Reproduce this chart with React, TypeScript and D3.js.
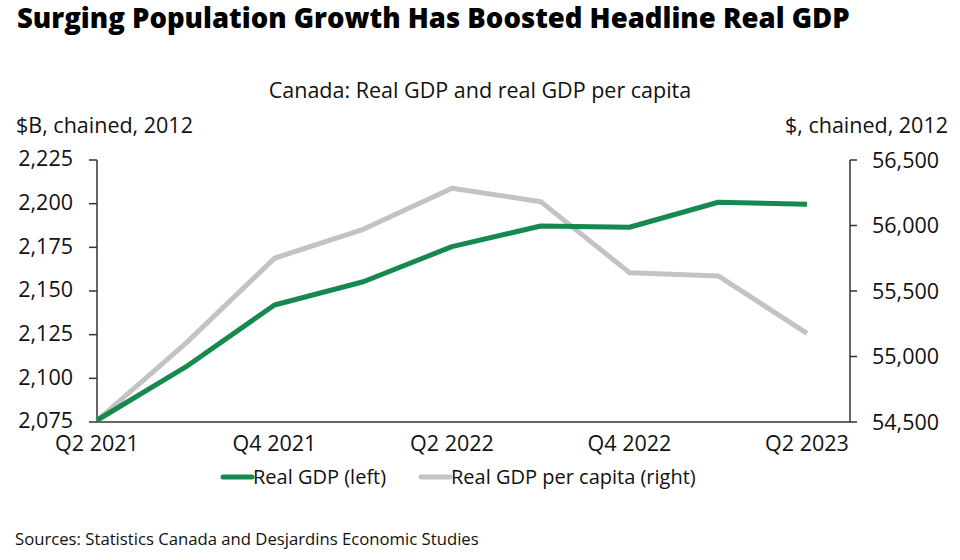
import React from "react";
import * as d3 from "d3";

const quarters = ["Q2 2021", "Q3 2021", "Q4 2021", "Q1 2022", "Q2 2022", "Q3 2022", "Q4 2022", "Q1 2023", "Q2 2023"];
const realGdp = [2076, 2106.5, 2142, 2155.3, 2175.4, 2187.2, 2186.5, 2200.8, 2199.6];
const realGdpPerCapita = [54510, 55100, 55750, 55971, 56284, 56182, 55640, 55615, 55177];
const leftTicks = [2075, 2100, 2125, 2150, 2175, 2200, 2225];
const rightTicks = [54500, 55000, 55500, 56000, 56500];
const xTickLabels = ["Q2 2021", "Q4 2021", "Q2 2022", "Q4 2022", "Q2 2023"];

const FONT = "'Open Sans', sans-serif";
const GREEN = "#168a4e";
const GRAY = "#c3c3c3";

export default function App() {
  const W = 960, H = 560;
  const x0 = 97, x1 = 807, axisR = 850;
  const yTop = 160, yBot = 422;
  const x = d3.scalePoint<string>().domain(quarters).range([x0, x1]);
  const yL = d3.scaleLinear().domain([2075, 2225]).range([yBot, yTop]);
  const yR = d3.scaleLinear().domain([54500, 56500]).range([yBot, yTop]);
  const fmt = d3.format(",");
  const lineL = d3.line<number>().x((_, i) => x(quarters[i])!).y((d) => yL(d));
  const lineR = d3.line<number>().x((_, i) => x(quarters[i])!).y((d) => yR(d));

  return (
    <svg width={W} height={H} style={{ position: "absolute", left: 0, top: 0, background: "#fff" }} fontFamily={FONT}>
      <text x={17} y={28} fontSize={27.5} fontWeight={800} fill="#000">Surging Population Growth Has Boosted Headline Real GDP</text>
      <text x={480} y={98} fontSize={21.5} textAnchor="middle" fill="#111">Canada: Real GDP and real GDP per capita</text>
      <text x={16} y={133} fontSize={21.5} fill="#111">$B, chained, 2012</text>
      <text x={948} y={133} fontSize={21.5} textAnchor="end" fill="#111">$, chained, 2012</text>

      {/* left axis */}
      <line x1={x0} x2={x0} y1={yTop} y2={yBot} stroke="#333" strokeWidth={1.5} />
      {leftTicks.map((t) => (
        <g key={"l" + t}>
          <line x1={x0 - 8} x2={x0} y1={yL(t)} y2={yL(t)} stroke="#333" strokeWidth={1.5} />
          <text x={73} y={yL(t)} dy="0.3em" fontSize={21.5} textAnchor="end" fill="#111">{fmt(t)}</text>
        </g>
      ))}
      {/* right axis */}
      <line x1={axisR} x2={axisR} y1={yTop} y2={yBot} stroke="#333" strokeWidth={1.5} />
      {rightTicks.map((t) => (
        <g key={"r" + t}>
          <line x1={axisR} x2={axisR + 7} y1={yR(t)} y2={yR(t)} stroke="#333" strokeWidth={1.5} />
          <text x={872} y={yR(t)} dy="0.35em" fontSize={21.5} textAnchor="start" fill="#111">{fmt(t)}</text>
        </g>
      ))}
      {/* bottom axis */}
      <line x1={x0} x2={axisR} y1={yBot} y2={yBot} stroke="#333" strokeWidth={1.5} />
      {xTickLabels.map((q) => (
        <text key={q} x={x(q)!} y={451} fontSize={21.5} textAnchor="middle" fill="#111">{q}</text>
      ))}

      <path d={lineR(realGdpPerCapita)!} fill="none" stroke={GRAY} strokeWidth={5} strokeLinejoin="round" />
      <path d={lineL(realGdp)!} fill="none" stroke={GREEN} strokeWidth={5} strokeLinejoin="round" />

      {/* legend */}
      <line x1={223} x2={252} y1={477} y2={477} stroke={GREEN} strokeWidth={5} strokeLinecap="round" />
      <text x={253} y={477} dy="0.35em" fontSize={20} fill="#111">Real GDP (left)</text>
      <line x1={421} x2={450} y1={477} y2={477} stroke={GRAY} strokeWidth={5} strokeLinecap="round" />
      <text x={451} y={477} dy="0.35em" fontSize={20} fill="#111">Real GDP per capita (right)</text>

      <text x={15} y={545} fontSize={16.7} fill="#111">Sources: Statistics Canada and Desjardins Economic Studies</text>
    </svg>
  );
}
